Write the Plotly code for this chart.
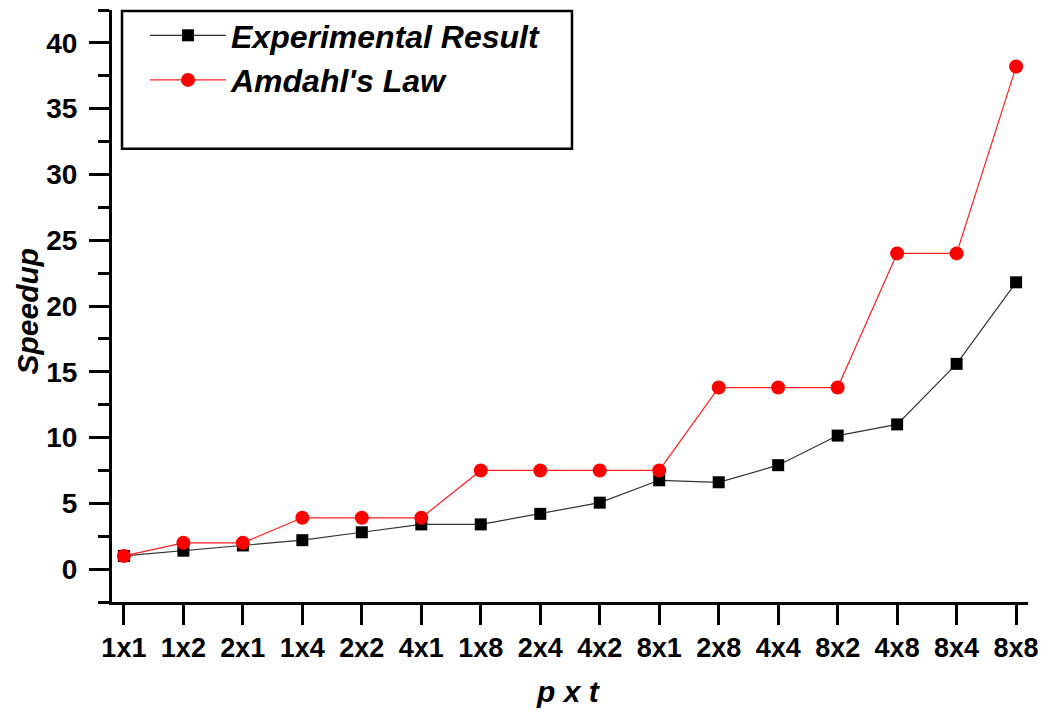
import plotly.graph_objects as go

categories = ["1x1", "1x2", "2x1", "1x4", "2x2", "4x1", "1x8", "2x4",
              "4x2", "8x1", "2x8", "4x4", "8x2", "4x8", "8x4", "8x8"]
experimental = [1.0, 1.4, 1.8, 2.2, 2.8, 3.4, 3.4, 4.2,
                5.05, 6.75, 6.6, 7.9, 10.15, 11.0, 15.6, 21.8]
amdahl = [1.0, 2.0, 2.0, 3.9, 3.9, 3.9, 7.5, 7.5,
          7.5, 7.5, 13.8, 13.8, 13.8, 24.0, 24.0, 38.2]
y_ticks = [0, 5, 10, 15, 20, 25, 30, 35, 40]

FONT = "Liberation Sans, Arial, sans-serif"

fig = go.Figure()
fig.add_trace(go.Scatter(
    x=categories, y=experimental, mode="lines+markers",
    name="Experimental Result",
    line=dict(color="#333333", width=1.2),
    marker=dict(symbol="square", size=12, color="black"),
))
fig.add_trace(go.Scatter(
    x=categories, y=amdahl, mode="lines+markers",
    name="Amdahl's Law",
    line=dict(color="#ff2020", width=1.2),
    marker=dict(symbol="circle", size=14, color="#ff0000"),
))

W, H = 1041, 712
plot_left, plot_right, plot_top, plot_bottom = 112, 1028, 9, 602
L = plot_left
R = W - plot_right
T = plot_top
B = H - plot_bottom
pw, ph = W - L - R, H - T - B

def px(xr):
    return (xr - plot_left) / pw

def py(yr):
    return (plot_bottom - yr) / ph

fig.update_layout(
    width=W, height=H,
    margin=dict(l=L, r=R, t=T, b=B, pad=0),
    paper_bgcolor="white", plot_bgcolor="white",
    showlegend=True,
    legend=dict(
        x=px(145), y=py(8), xanchor="left", yanchor="top",
        bgcolor="rgba(0,0,0,0)", borderwidth=0,
        font=dict(family=FONT, size=32, color="black", weight="bold", style="italic"),
        itemwidth=76, tracegroupgap=0,
    ),
    xaxis=dict(
        type="category", range=[-0.2, 15.2],
        showgrid=False, zeroline=False,
        showline=True, linecolor="black", linewidth=3,
        ticks="outside", ticklen=20, tickwidth=3, tickcolor="black",
        tickfont=dict(family=FONT, size=27, color="black", weight="bold"),
        ticklabelstandoff=0, automargin=False,
    ),
    yaxis=dict(
        range=[-2.5, 42.5],
        tickvals=y_ticks,
        showgrid=False, zeroline=False,
        showline=True, linecolor="black", linewidth=3,
        ticks="outside", ticklen=20, tickwidth=3, tickcolor="black",
        tickfont=dict(family=FONT, size=28, color="black", weight="bold"),
        ticklabelstandoff=6, automargin=False,
        minor=dict(dtick=2.5, tick0=-2.5, ticks="outside", ticklen=11,
                   tickwidth=3, tickcolor="black", showgrid=False),
    ),
    shapes=[dict(
        type="rect", xref="paper", yref="paper",
        x0=px(122), x1=px(572), y0=py(148), y1=py(10),
        line=dict(color="black", width=2.5), fillcolor="rgba(0,0,0,0)",
        layer="above",
    )],
    annotations=[
        dict(text="Speedup", xref="paper", yref="paper",
             x=px(27), y=py(311), xanchor="center", yanchor="middle",
             textangle=-90, showarrow=False,
             font=dict(family=FONT, size=30, color="black", weight="bold", style="italic")),
        dict(text="p x t", xref="paper", yref="paper",
             x=px(568), y=py(692), xanchor="center", yanchor="middle",
             showarrow=False,
             font=dict(family=FONT, size=30, color="black", weight="bold", style="italic")),
    ],
)

fig.write_html(
    "out.html",
    config={"displayModeBar": False},
    post_script="document.body.style.margin='0';document.body.style.overflow='hidden';",
)
